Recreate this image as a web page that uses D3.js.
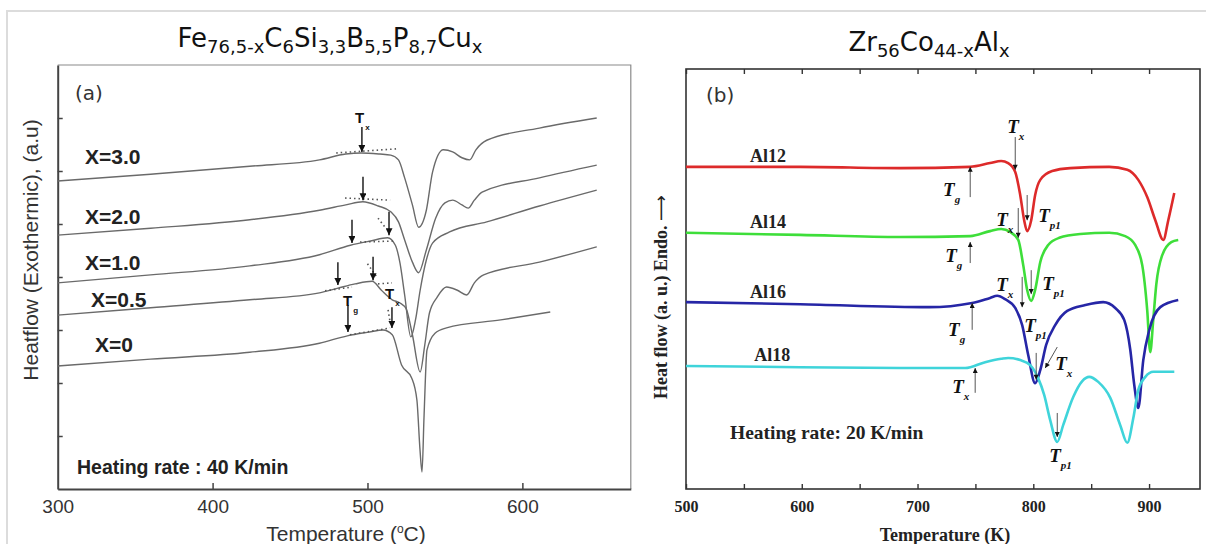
<!DOCTYPE html>
<html><head><meta charset="utf-8">
<script src="https://cdn.jsdelivr.net/npm/d3@7"></script>
<style>body{margin:0;background:#fff;} svg{display:block;}</style>
</head><body><svg id="c" width="1206" height="544"></svg>
<script>
// ---------- Panel (a) data: Fe-based, temperature in °C, heat flow (a.u.) ----------
const aTicksX = [300, 400, 500, 600];
const aTicksY = [1, 2, 3, 4, 5, 6, 7];
const aSeriesNames = ["X=3.0", "X=2.0", "X=1.0", "X=0.5", "X=0"];
const aT30 = [300,360,424,469,486,496,508,515,520,524,529,533,538,542,549,555,561,566,570,577,611,648];
const aV30 = [5.81,5.94,6.09,6.21,6.32,6.34,6.32,6.30,6.21,5.87,5.36,4.94,5.26,5.98,6.40,6.36,6.25,6.21,6.40,6.58,6.81,7.00];
const aT20 = [300,360,424,469,486,497,507,515,520,524,529,533,538,544,550,555,561,565,569,574,611,648];
const aV20 = [4.79,4.92,5.08,5.26,5.36,5.42,5.34,5.23,5.04,4.70,4.28,4.08,4.51,5.11,5.40,5.45,5.36,5.30,5.45,5.60,5.87,6.11];
const aT10 = [300,360,424,469,489,502,513,518,521,524,528,531,534,538,542,553,577,611,648];
const aV10 = [3.89,4.04,4.21,4.42,4.60,4.68,4.74,4.60,4.26,3.66,2.87,3.19,3.75,4.32,4.64,4.85,5.04,5.34,5.64];
const aT05 = [300,360,424,469,481,492,503,509,516,521,525,529,534,537,540,545,551,558,564,569,575,611,648];
const aV05 = [3.28,3.42,3.57,3.70,3.79,3.87,3.92,3.75,3.57,3.51,3.40,2.91,2.21,2.72,3.32,3.62,3.81,3.75,3.66,3.89,4.04,4.28,4.57];
const aT00 = [300,360,424,469,487,501,510,516,522,528.6,531.9,533.9,535.2,536.5,538.4,543.6,551,586,618];
const aV00 = [2.32,2.45,2.58,2.75,2.89,2.96,3.00,2.91,2.34,2.09,1.68,0.74,0.32,1.36,2.62,2.94,3.04,3.19,3.34];

// ---------- Panel (b) data: Zr-based, temperature in K, heat flow (a.u.) ----------
const bTicksX = [500, 550, 600, 650, 700, 750, 800, 850, 900];
const bTickLabels = [500, 600, 700, 800, 900];
const bSeriesNames = ["Al12", "Al14", "Al16", "Al18"];
const bColors = ["#dd2a2a", "#3ede3a", "#2626a6", "#3fd4da"];
const bT12 = [500,598.5,685,745.5,762.7,772.3,778.3,784.4,788.7,792.1,794.7,798.2,801.6,806,816.3,831.9,865.6,881.2,890.7,898.4,905.4,912.3,916.6,921.8];
const bV12 = [7.67,7.67,7.64,7.67,7.76,7.81,7.76,7.55,7.0,6.40,6.14,6.40,7.0,7.36,7.57,7.64,7.67,7.60,7.36,6.95,6.40,5.93,6.40,7.05];
const bT14 = [500,598.5,685,745.5,762.7,772.3,780,787,791.3,794.7,798.2,801.6,806,812.9,822.4,840.5,865.6,879.4,888,894.1,898.4,901,903.6,906.2,911.4,919.2,925.2];
const bV14 = [6.10,6.05,6.0,6.02,6.14,6.19,6.12,5.93,5.33,4.74,4.48,4.74,5.40,5.81,5.98,6.07,6.10,6.02,5.81,5.33,4.26,3.26,4.02,4.86,5.57,5.88,5.93];
const bT16 = [500,598.5,710,747.2,762.7,768.8,775.7,784.4,790.4,795.6,801.6,806,811.1,818.9,829.3,844.9,860.4,870.8,878.6,883.8,887.2,890.7,895,900.2,909.7,925.2];
const bV16 = [4.45,4.40,4.33,4.43,4.55,4.60,4.52,4.31,3.90,3.19,2.52,2.83,3.43,3.90,4.24,4.38,4.45,4.31,4.02,3.31,2.48,1.93,3.07,3.79,4.33,4.50];
const bT18 = [500,598.5,685,741.1,758.4,772.3,778.3,788.7,797.3,804.2,809.4,814.6,820.7,825.8,834.5,842.3,848.3,856.1,866.5,875.1,881.2,886.4,890.7,896.8,903.7,921.8];
const bV18 = [2.93,2.90,2.88,2.88,3.02,3.10,3.12,3.07,2.95,2.64,2.24,1.64,1.12,1.52,2.19,2.57,2.67,2.55,2.17,1.52,1.10,1.69,2.36,2.67,2.79,2.79];

const SANS = "Liberation Sans, Arial, sans-serif";
const SERIF = "Liberation Serif, Times New Roman, serif";
const TITLE = "DejaVu Sans, Lato, sans-serif";

const svg = d3.select("#c");
const defs = svg.append("defs");
function marker(id, w, h, color) {
  defs.append("marker").attr("id", id).attr("markerUnits", "userSpaceOnUse")
    .attr("viewBox", "0 0 10 10").attr("refX", 10).attr("refY", 5)
    .attr("markerWidth", w).attr("markerHeight", h).attr("orient", "auto")
    .append("path").attr("d", "M0,0 L10,5 L0,10 z").attr("fill", color);
}
marker("headA", 9, 7, "#111");
marker("headB", 7, 5, "#111");

svg.append("path").attr("d", "M7,544 L7,11 L1206,11").attr("fill", "none")
  .attr("stroke", "#dcdcdc").attr("stroke-width", 2);

// ================= Panel (a) =================
const aX = d3.scaleLinear().domain([300, 670]).range([57.7, 630.8]);
const aY = d3.scaleLinear().domain([0, 8]).range([489, 65]);
const ga = svg.append("g");

ga.append("path").attr("d", `M${aX(300)},${aY(8)} L${aX(670)},${aY(8)} L${aX(670)},${aY(0)}`)
  .attr("fill", "none").attr("stroke", "#8a8a8a").attr("stroke-width", 1.2);
ga.append("g").attr("transform", `translate(0,${aY(0)})`)
  .call(d3.axisBottom(aX).tickValues(aTicksX).tickSizeInner(-6).tickSizeOuter(0).tickPadding(11))
  .call(g => g.select(".domain").attr("stroke", "#444").attr("stroke-width", 2))
  .call(g => g.selectAll(".tick line").attr("stroke", "#444").attr("stroke-width", 1.5))
  .call(g => g.selectAll(".tick").filter(d => d === 300).select("line").remove())
  .call(g => g.selectAll("text").attr("font-family", SANS).attr("font-size", 19).attr("fill", "#333"));
ga.append("g").attr("transform", `translate(${aX(300)},0)`)
  .call(d3.axisLeft(aY).tickValues(aTicksY).tickSizeInner(-5).tickSizeOuter(0).tickFormat(""))
  .call(g => g.select(".domain").attr("stroke", "#444").attr("stroke-width", 2))
  .call(g => g.selectAll(".tick line").attr("stroke", "#444").attr("stroke-width", 1.5));

const lineA = d3.line().x(d => aX(d[0])).y(d => aY(d[1])).curve(d3.curveMonotoneX);
const aSeries = [[aT30, aV30], [aT20, aV20], [aT10, aV10], [aT05, aV05], [aT00, aV00]];
aSeries.forEach(([t, v]) => {
  ga.append("path").datum(t.map((x, i) => [x, v[i]])).attr("d", lineA)
    .attr("fill", "none").attr("stroke", "#6a6a6a").attr("stroke-width", 1.4);
});

const aLabelPos = [[317.6, 6.13], [317.6, 5.0], [317.6, 4.13], [321.5, 3.43], [324.1, 2.58]];
aSeriesNames.forEach((n, i) => {
  ga.append("text").attr("x", aX(aLabelPos[i][0])).attr("y", aY(aLabelPos[i][1]))
    .attr("font-family", SANS).attr("font-weight", "bold")
    .attr("font-size", 21).attr("fill", "#222").text(n);
});

const aDots = [[479.8,6.34,519.8,6.42],[485.5,5.49,514.6,5.45],[506.8,5.11,511.9,4.92],
  [495.2,4.66,518.4,4.68],[472.6,3.74,490,3.81],[506.8,3.87,515.8,3.89],[500,4.25,506,4.0],
  [488.7,2.91,514.6,3.04],[513.3,3.38,514.6,3.15]];
aDots.forEach(d => {
  ga.append("line").attr("x1", aX(d[0])).attr("y1", aY(d[1])).attr("x2", aX(d[2])).attr("y2", aY(d[3]))
    .attr("stroke", "#555").attr("stroke-width", 1.6).attr("stroke-dasharray", "1.5,3");
});

const aArrows = [[496.4,6.83,6.36],[497.1,5.89,5.45],[490,5.08,4.64],[513.9,5.23,4.79],
  [480.9,4.28,3.85],[503.6,4.38,3.94],[487.4,3.47,2.96],[515.8,3.43,3.04]];
aArrows.forEach(d => {
  ga.append("line").attr("x1", aX(d[0])).attr("y1", aY(d[1])).attr("x2", aX(d[0])).attr("y2", aY(d[2]))
    .attr("stroke", "#111").attr("stroke-width", 1.4).attr("marker-end", "url(#headA)");
});
const aTLabels = [[492, 6.91, "x"], [484.2, 3.45, "g"], [511.3, 3.58, "x"]];
aTLabels.forEach(d => {
  const t = ga.append("text").attr("x", aX(d[0])).attr("y", aY(d[1]))
    .attr("font-family", SANS).attr("font-weight", "bold").attr("font-size", 15).attr("fill", "#111");
  t.append("tspan").text("T");
  t.append("tspan").attr("dx", 1).attr("dy", 7).attr("font-size", 8).text(d[2]);
});

ga.append("text").attr("x", 75).attr("y", 100).attr("font-family", TITLE)
  .attr("font-size", 20).attr("fill", "#333").text("(a)");
ga.append("text").attr("x", 77).attr("y", 474).attr("font-family", SANS)
  .attr("font-weight", "bold").attr("font-size", 19.5).attr("fill", "#222").text("Heating rate : 40 K/min");

const xa = ga.append("text").attr("x", 346).attr("y", 541).attr("text-anchor", "middle")
  .attr("font-family", SANS).attr("font-size", 21).attr("fill", "#333");
xa.append("tspan").text("Temperature (");
xa.append("tspan").attr("font-size", 12).attr("dy", -8).text("o");
xa.append("tspan").attr("dy", 8).text("C)");
ga.append("text").attr("transform", "translate(38,250) rotate(-90)").attr("text-anchor", "middle")
  .attr("font-family", SANS).attr("font-size", 21).attr("fill", "#333")
  .text("Heatflow (Exothermic), (a.u)");

function subTitle(x, y, parts) {
  const t = svg.append("text").attr("x", x).attr("y", y).attr("text-anchor", "middle")
    .attr("font-family", TITLE).attr("font-size", 26).attr("fill", "#111");
  parts.forEach(([m, s], i) => {
    t.append("tspan").attr("dy", i === 0 ? 0 : -6).text(m);
    t.append("tspan").attr("font-size", 18).attr("dy", 6).text(s);
  });
}
subTitle(330, 47, [["Fe", "76,5-x"], ["C", "6"], ["Si", "3,3"], ["B", "5,5"], ["P", "8,7"], ["Cu", "x"]]);

// ================= Panel (b) =================
const bX = d3.scaleLinear().domain([500, 944]).range([686, 1200]);
const bY = d3.scaleLinear().domain([0, 10]).range([489, 69]);
const gb = svg.append("g");
gb.append("rect").attr("x", bX(500)).attr("y", bY(10)).attr("width", bX(944) - bX(500))
  .attr("height", bY(0) - bY(10)).attr("fill", "none").attr("stroke", "#333").attr("stroke-width", 1.6);
gb.append("g").attr("transform", `translate(0,${bY(0)})`)
  .call(d3.axisBottom(bX).tickValues(bTicksX).tickSizeInner(-5).tickSizeOuter(0).tickPadding(12)
    .tickFormat(d => bTickLabels.includes(d) ? d : ""))
  .call(g => g.select(".domain").remove())
  .call(g => g.selectAll(".tick line").attr("stroke", "#333").attr("stroke-width", 1.4))
  .call(g => g.selectAll("text").attr("font-family", SERIF)
    .attr("font-weight", "bold").attr("font-size", 16).attr("fill", "#222"));
gb.append("g").attr("transform", `translate(0,${bY(10)})`)
  .call(d3.axisTop(bX).tickValues(bTicksX).tickSizeInner(-5).tickSizeOuter(0).tickFormat(""))
  .call(g => g.select(".domain").remove())
  .call(g => g.selectAll(".tick line").attr("stroke", "#333").attr("stroke-width", 1.4));

const lineB = d3.line().x(d => bX(d[0])).y(d => bY(d[1])).curve(d3.curveMonotoneX);
const bSeries = [[bT12, bV12], [bT14, bV14], [bT16, bV16], [bT18, bV18]];
bSeries.forEach(([t, v], i) => {
  gb.append("path").datum(t.map((x, j) => [x, v[j]])).attr("d", lineB)
    .attr("fill", "none").attr("stroke", bColors[i]).attr("stroke-width", 2.6);
});

const bLabelPos = [[555.3, 7.79], [555.3, 6.22], [555.3, 4.55], [559, 3.05]];
bSeriesNames.forEach((n, i) => {
  gb.append("text").attr("x", bX(bLabelPos[i][0])).attr("y", bY(bLabelPos[i][1]))
    .attr("font-family", SERIF).attr("font-weight", "bold")
    .attr("font-size", 18).attr("fill", "#222").text(n);
});

const bArrows = [[784.4,8.38,784.4,7.60],[745.5,6.95,745.5,7.67],[794.7,7.0,794.7,6.40],
  [787,6.69,787,5.98],[745.5,5.38,745.5,5.88],[798.2,5.21,798.2,4.64],
  [790.4,5.05,790.4,4.33],[747.2,3.79,747.2,4.43],[802.5,3.24,802.5,2.60],
  [820.7,3.38,810.3,2.88],[749.8,2.29,749.8,2.88],[820.7,1.81,820.7,1.24]];
bArrows.forEach(d => {
  gb.append("line").attr("x1", bX(d[0])).attr("y1", bY(d[1])).attr("x2", bX(d[2])).attr("y2", bY(d[3]))
    .attr("stroke", "#555").attr("stroke-width", 1).attr("marker-end", "url(#headB)");
});
const bTLabels = [[777.4,8.48,"x"],[722.1,6.98,"g"],[804.2,6.36,"p1"],[767.9,6.26,"x"],[723.9,5.40,"g"],
  [807.7,4.74,"p1"],[767.9,4.71,"x"],[726.4,3.64,"g"],[792.1,3.74,"p1"],[818.9,2.83,"x"],
  [729.9,2.29,"x"],[813.7,0.64,"p1"]];
bTLabels.forEach(d => {
  const t = gb.append("text").attr("x", bX(d[0])).attr("y", bY(d[1]))
    .attr("font-family", SERIF).attr("font-weight", "bold")
    .attr("font-style", "italic").attr("font-size", 19).attr("fill", "#111");
  t.append("tspan").text("T");
  t.append("tspan").attr("dx", 0).attr("dy", 7).attr("font-size", 11).text(d[2]);
});

gb.append("text").attr("x", 706).attr("y", 102).attr("font-family", TITLE)
  .attr("font-size", 20).attr("fill", "#333").text("(b)");
gb.append("text").attr("x", 730).attr("y", 439).attr("font-family", SERIF)
  .attr("font-weight", "bold").attr("font-size", 19.5).attr("fill", "#222").text("Heating rate: 20 K/min");
gb.append("text").attr("x", 945).attr("y", 541).attr("text-anchor", "middle")
  .attr("font-family", SERIF).attr("font-weight", "bold")
  .attr("font-size", 18).attr("fill", "#222").text("Temperature (K)");
const yb = gb.append("text").attr("transform", "translate(667,297) rotate(-90)").attr("text-anchor", "middle")
  .attr("font-family", SERIF).attr("font-weight", "bold")
  .attr("font-size", 18).attr("fill", "#222");
yb.append("tspan").text("Heat flow (a. u.) Endo. ");
yb.append("tspan").attr("font-family", "DejaVu Sans, sans-serif").attr("font-weight", "normal").text("\u27F6");

subTitle(929, 51, [["Zr", "56"], ["Co", "44-x"], ["Al", "x"]]);
</script></body></html>
